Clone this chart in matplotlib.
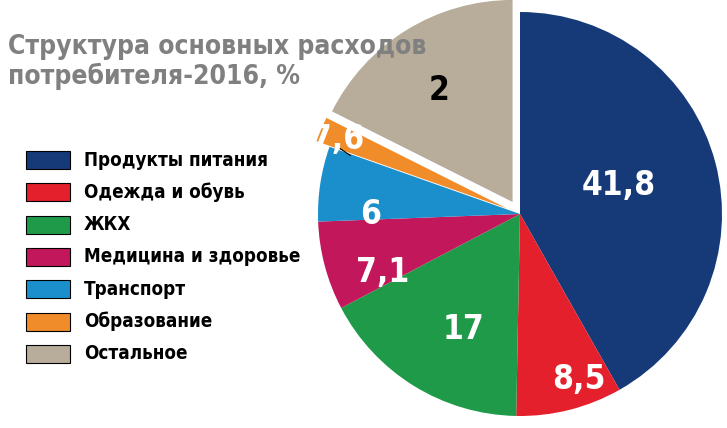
import matplotlib.pyplot as plt
from matplotlib.patches import Rectangle

plt.rcParams['font.family'] = ['DejaVu Sans']
plt.rcParams['font.stretch'] = 'condensed'

categories = ['Продукты питания', 'Одежда и обувь', 'ЖКХ', 'Медицина и здоровье',
              'Транспорт', 'Образование', 'Остальное']
values = [41.8, 8.5, 17, 7.1, 6, 2, 17.6]
value_labels = ['41,8', '8,5', '17', '7,1', '6', '2', '17,6']
colors = ['#163a78', '#e3202b', '#1f9a48', '#c2185b', '#1b8fcc', '#f08d2a', '#b7ad9a']
explode = [0, 0, 0, 0, 0, 0.07, 0.07]

fig = plt.figure(figsize=(7.27, 4.28), dpi=100)
fig.patch.set_facecolor('white')

# pie
ax = fig.add_axes([318 / 727, 12 / 428, 404 / 727, 404 / 428])
wedges, _ = ax.pie(values, colors=colors, startangle=90, counterclock=False,
                   explode=explode, wedgeprops=dict(linewidth=0))
ax.set_aspect('equal')
ax.set_xlim(-1, 1)
ax.set_ylim(-1, 1)

label_pos = [(0.49, 0.14), (0.29, -0.82), (-0.28, -0.57), (-0.68, -0.29),
             (-0.74, 0.0), (-0.4, 0.61), (-0.95, 0.37)]
for (x, y), lab, v in zip(label_pos, value_labels, values):
    col = 'black' if v == 2 else 'white'
    ax.text(x, y, lab, color=col, fontsize=24, fontweight='bold',
            ha='center', va='center', clip_on=False)
ax.plot([-0.9, -0.84], [0.33, 0.29], color='black', lw=0.8, clip_on=False)

# title and legend
fig.text(8 / 727, 1 - 62 / 428, 'Структура основных расходов\nпотребителя-2016, %',
         fontsize=19, fontweight='bold', color='#808080', linespacing=1.1,
         va='center', ha='left')

for i, (c, name) in enumerate(zip(colors, categories)):
    y = 1 - (160 + i * 32.3) / 428
    fig.patches.append(Rectangle((26 / 727, y - 9 / 428), 44 / 727, 18 / 428,
                                 transform=fig.transFigure, facecolor=c,
                                 edgecolor='black', linewidth=0.8))
    fig.text(84 / 727, y, name, fontsize=13.5, fontweight='bold', va='center', ha='left')

fig.savefig('out.png', dpi=100)
